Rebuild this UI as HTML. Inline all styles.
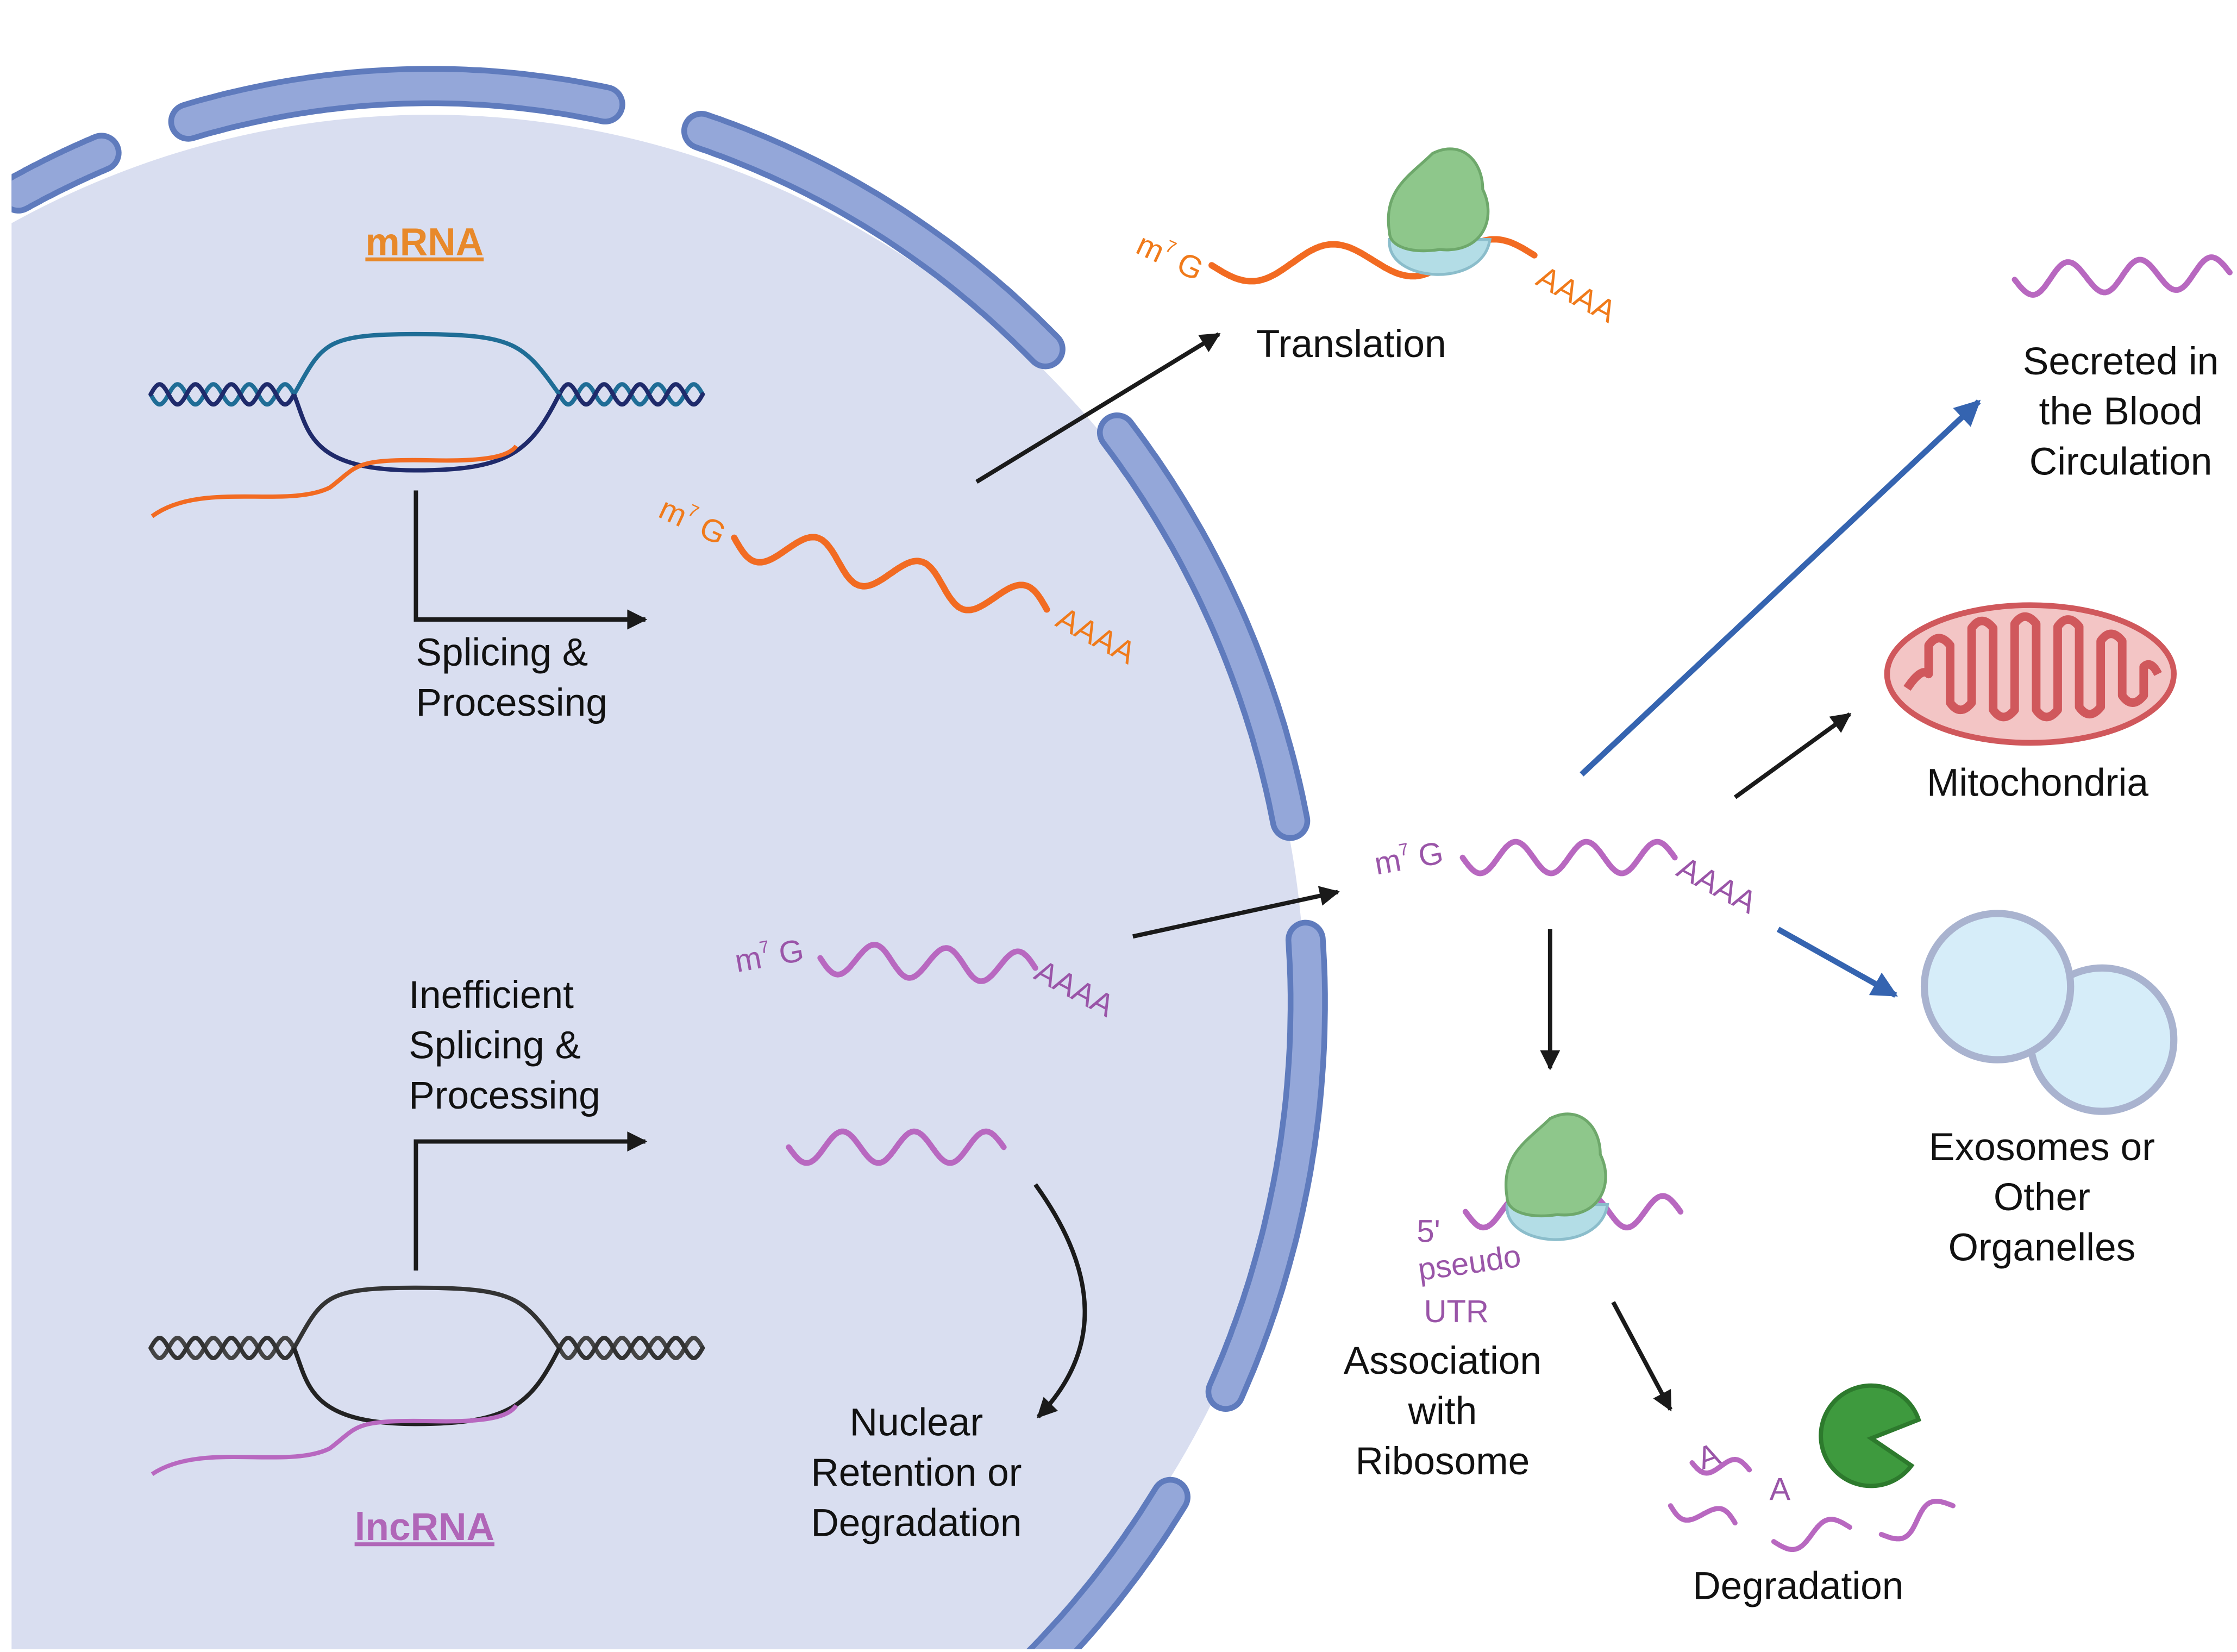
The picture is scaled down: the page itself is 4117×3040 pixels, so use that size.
<!DOCTYPE html>
<html><head><meta charset="utf-8">
<style>
html,body{margin:0;padding:0;background:#fff;width:4117px;height:3040px;overflow:hidden;}
svg{display:block;}
text{font-family:"Liberation Sans",sans-serif;}
</style></head>
<body>
<svg id="s" xmlns="http://www.w3.org/2000/svg" width="4117" height="3040" viewBox="0 0 1560 1152">
<defs>
<clipPath id="cl"><rect x="8" y="0" width="1552" height="1150"/></clipPath>
<marker id="ak" viewBox="0 0 10 10" refX="9" refY="5" markerWidth="18" markerHeight="14" orient="auto" markerUnits="userSpaceOnUse"><path d="M0,0 L10,5 L0,10 z" fill="#1a1a1a"/></marker>
<marker id="ab" viewBox="0 0 10 10" refX="9" refY="5" markerWidth="22" markerHeight="18" orient="auto" markerUnits="userSpaceOnUse"><path d="M0,0 L10,5 L0,10 z" fill="#3564b0"/></marker>
</defs>
<g clip-path="url(#cl)">
<ellipse cx="300" cy="700" rx="610" ry="620" fill="#d9def0"/>
<g id="env"></g>
</g>
<g id="g"></g>

<g font-size="27" fill="#111">
<text x="296" y="178" text-anchor="middle" fill="#e8892a" font-weight="bold" text-decoration="underline">mRNA</text>
<text x="296" y="1074" text-anchor="middle" fill="#b066b8" font-weight="bold" text-decoration="underline">lncRNA</text>
<text x="290" y="464">Splicing &amp;</text>
<text x="290" y="499">Processing</text>
<text x="285" y="703">Inefficient</text>
<text x="285" y="738">Splicing &amp;</text>
<text x="285" y="773">Processing</text>
<text x="639" y="1001" text-anchor="middle">Nuclear</text>
<text x="639" y="1036" text-anchor="middle">Retention or</text>
<text x="639" y="1071" text-anchor="middle">Degradation</text>
<text x="876" y="249">Translation</text>
<text x="1479" y="261" text-anchor="middle">Secreted in</text>
<text x="1479" y="296" text-anchor="middle">the Blood</text>
<text x="1479" y="331" text-anchor="middle">Circulation</text>
<text x="1421" y="555" text-anchor="middle">Mitochondria</text>
<text x="1424" y="809" text-anchor="middle">Exosomes or</text>
<text x="1424" y="844" text-anchor="middle">Other</text>
<text x="1424" y="879" text-anchor="middle">Organelles</text>
<text x="1006" y="958" text-anchor="middle">Association</text>
<text x="1006" y="993" text-anchor="middle">with</text>
<text x="1006" y="1028" text-anchor="middle">Ribosome</text>
<text x="1254" y="1115" text-anchor="middle">Degradation</text>
</g>
<g font-size="22">
<text x="790" y="180" transform="rotate(25 800 180)" fill="#f07a1a">m<tspan font-size="12" dy="-10">7</tspan><tspan dy="10"> G</tspan></text>
<text x="1070" y="198" transform="rotate(28 1070 198)" fill="#f07a1a">AAAA</text>
<text x="458" y="360" transform="rotate(25 458 360)" fill="#f07a1a">m<tspan font-size="12" dy="-10">7</tspan><tspan dy="10"> G</tspan></text>
<text x="735" y="436" transform="rotate(28 735 436)" fill="#f07a1a">AAAA</text>
</g>
<g font-size="22" fill="#9a55a8">
<text x="514" y="678" transform="rotate(-10 514 678)">m<tspan font-size="12" dy="-10">7</tspan><tspan dy="10"> G</tspan></text>
<text x="720" y="682" transform="rotate(28 720 682)">AAAA</text>
<text x="960" y="610" transform="rotate(-10 960 610)">m<tspan font-size="12" dy="-10">7</tspan><tspan dy="10"> G</tspan></text>
<text x="1168" y="610" transform="rotate(28 1168 610)">AAAA</text>
<text x="988" y="866">5'</text>
<text x="990" y="893" transform="rotate(-8 990 893)">pseudo</text>
<text x="993" y="922">UTR</text>
<text x="1187" y="1024" transform="rotate(-20 1190 1024)">A</text>
<text x="1234" y="1046">A</text>
</g>

<g stroke="#1a1a1a" stroke-width="3" fill="none">
<path d="M290,342 V432 H450" marker-end="url(#ak)"/>
<path d="M290,886 V796 H450" marker-end="url(#ak)"/>
<path d="M681,336 L850,233" marker-end="url(#ak)"/>
<path d="M790,653 L933,622" marker-end="url(#ak)"/>
<path d="M722,826 Q790,920 724,988" marker-end="url(#ak)"/>
<path d="M1081,648 V745" marker-end="url(#ak)"/>
<path d="M1210,556 L1290,498" marker-end="url(#ak)"/>
<path d="M1125,908 L1165,983" marker-end="url(#ak)"/>
</g>
<g stroke="#3564b0" stroke-width="4" fill="none">
<path d="M1103,540 L1380,280" marker-end="url(#ab)"/>
<path d="M1240,648 L1322,694" marker-end="url(#ab)"/>
</g>

<g>
<ellipse cx="1416" cy="470" rx="100" ry="48" fill="#f3c5c5" stroke="#d0585c" stroke-width="4"/>
<path d="M1330,480 Q1340,465 1345,470 L1345,450 Q1352,440 1360,450 L1360,490 Q1367,500 1375,490 L1375,438 Q1382,428 1390,438 L1390,495 Q1397,505 1405,495 L1405,435 Q1412,425 1420,435 L1420,495 Q1427,505 1435,495 L1435,437 Q1442,427 1450,437 L1450,493 Q1457,503 1465,493 L1465,447 Q1472,437 1480,447 L1480,485 Q1487,495 1495,485 L1495,465 Q1500,460 1505,470" fill="none" stroke="#d0585c" stroke-width="6" stroke-linejoin="round"/>
</g>
<circle cx="1466" cy="725" r="50" fill="#d6edf9" stroke="#a9b3cf" stroke-width="5"/>
<circle cx="1393" cy="688" r="51" fill="#d6edf9" stroke="#a9b3cf" stroke-width="5"/>
<path d="M1305,1003 L1333,1022 A35,35 0 1 1 1338,990 Z" fill="#3e9a3e" stroke="#2d7a2d" stroke-width="3"/>
</svg>
<script>
var NS="http://www.w3.org/2000/svg";
function el(p,t,a){var e=document.createElementNS(NS,t);for(var k in a)e.setAttribute(k,a[k]);p.appendChild(e);return e;}
var env=document.getElementById('env'),g=document.getElementById('g');
var cx=300,cy=700,RX=612,RY=640;
function arc(a1,a2){var d="";for(var i=0;i<=60;i++){var a=(a1+(a2-a1)*i/60)*Math.PI/180;
 d+=(i?"L":"M")+(cx+RX*Math.cos(a)).toFixed(1)+","+(cy+RY*Math.sin(a)).toFixed(1);}return d;}
[[-118,-112],[-106,-78.5],[-72,-45.5],[-38.5,-11.5],[-4,25],[32.5,60]].forEach(function(s){
 el(env,'path',{d:arc(s[0],s[1]),stroke:'#5f7bbd',"stroke-width":28,"stroke-linecap":"round",fill:"none"});
 el(env,'path',{d:arc(s[0],s[1]),stroke:'#94a7d9',"stroke-width":20,"stroke-linecap":"round",fill:"none"});
});
function wave(x0,y0,x1,y1,n,amp,col,w,ph){
 var d="",N=200,dx=x1-x0,dy=y1-y0,L=Math.hypot(dx,dy),nx=-dy/L,ny=dx/L;ph=ph||0;
 for(var i=0;i<=N;i++){var t=i/N,s=amp*Math.sin(t*n*2*Math.PI+ph);
  d+=(i?"L":"M")+(x0+dx*t+nx*s).toFixed(1)+","+(y0+dy*t+ny*s).toFixed(1);}
 el(g,'path',{d:d,stroke:col,"stroke-width":w,fill:"none","stroke-linecap":"round"});
}
function dna(y,c1,c2,top,bot){
 wave(105,y,205,y,4,7,c2,3,0);wave(105,y,205,y,4,7,c1,3,Math.PI);
 wave(390,y,490,y,4,7,c2,3,0);wave(390,y,490,y,4,7,c1,3,Math.PI);
 el(g,'path',{d:"M205,"+y+" C225,"+(y-35)+" 225,"+(y-42)+" 290,"+(y-42)+" C360,"+(y-42)+" 365,"+(y-35)+" 390,"+y,stroke:top,"stroke-width":3,fill:"none"});
 el(g,'path',{d:"M205,"+y+" C215,"+(y+25)+" 215,"+(y+53)+" 290,"+(y+53)+" C355,"+(y+53)+" 370,"+(y+40)+" 390,"+y,stroke:bot,"stroke-width":3,fill:"none"});
}
dna(275,"#1f2a6b","#1f6d96","#1f6d96","#1f2a6b");
el(g,'path',{d:"M106,360 C140,335 200,355 230,340 C250,325 245,320 300,321 C340,322 355,318 360,311",stroke:"#f26b22","stroke-width":3,fill:"none"});
dna(940,"#333","#444","#333","#222");
el(g,'path',{d:"M106,1028 C140,1005 200,1025 230,1010 C250,995 245,990 300,991 C340,992 355,988 360,980",stroke:"#b868c0","stroke-width":3,fill:"none"});
wave(512,375,730,425,3,13,"#f26b22",4.5);
wave(845,185,1070,178,2,12,"#f26b22",4.5);
wave(572,668,722,675,3,11,"#b868c0",4);
wave(1020,598,1168,598,3,11,"#b868c0",4);
wave(550,800,700,800,3,11,"#b868c0",4);
wave(1405,195,1555,190,3,11,"#b868c0",4);
wave(1022,845,1172,845,3,11,"#b868c0",4);
wave(1165,1050,1210,1062,1,7,"#b868c0",3.5);
wave(1180,1020,1220,1025,1,6,"#b868c0",3.5);
wave(1237,1075,1290,1065,1,8,"#b868c0",3.5);
wave(1312,1070,1362,1050,1,8,"#b868c0",3.5);
function ribo(x,y){
 el(g,'path',{d:"M"+(x-35)+","+(y+25)+" C"+(x-38)+","+(y+55)+" "+(x+30)+","+(y+60)+" "+(x+35)+","+(y+25)+" Z",fill:"#b3dde6",stroke:"#8bbdcb","stroke-width":2});
 el(g,'path',{d:"M"+(x-35)+","+(y+20)+" C"+(x-40)+","+(y-10)+" "+(x-20)+","+(y-20)+" "+(x-5)+","+(y-35)+" C"+(x+15)+","+(y-45)+" "+(x+30)+","+(y-30)+" "+(x+30)+","+(y-10)+" C"+(x+40)+","+(y+10)+" "+(x+30)+","+(y+35)+" "+(x)+","+(y+32)+" C"+(x-20)+","+(y+35)+" "+(x-35)+","+(y+30)+" "+(x-35)+","+(y+20)+" Z",fill:"#8ec78b",stroke:"#6ea86b","stroke-width":2});
}
ribo(1004,142);
ribo(1086,815);
</script>
</body></html>
